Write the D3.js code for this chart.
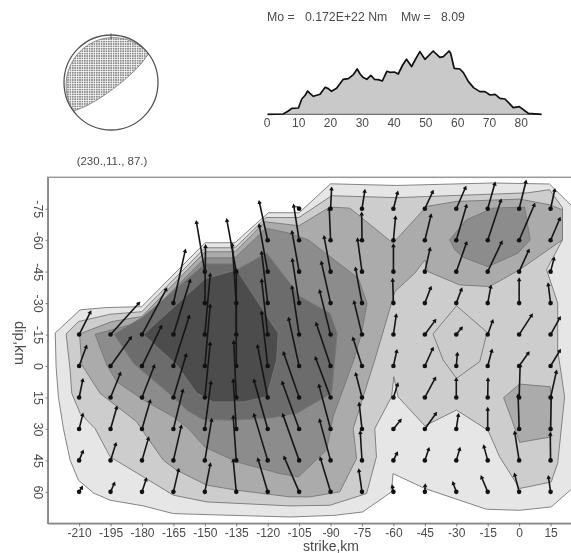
<!DOCTYPE html>
<html>
<head>
<meta charset="utf-8">
<script src="https://cdn.jsdelivr.net/npm/d3@7"></script>
<style>
  html, body { margin: 0; padding: 0; background: #fff; }
  svg { display: block; filter: blur(0.45px); }
  text { font-family: "Liberation Sans", Arial, sans-serif; fill: #4a4a4a; }
  .axis path { stroke: #8a8a8a; stroke-width: 1.6; }
  .axis line { stroke: #777; }
</style>
</head>
<body>
<div id="chart"></div>
<script>
// source time function (time in s, moment rate in arbitrary units)
const stfTime = [0.2, 5.1, 6.7, 7.8, 9.9, 10.9, 12, 12.8, 13.5, 14.6, 16.7, 18.3, 19.3, 20.3, 21.9, 24, 25.6, 27.2, 28.4, 29.3, 30.3, 31.4, 32.7, 33.8, 35, 36.3, 37.7, 38.7, 40.1, 41.3, 42.7, 43.9, 45.5, 46.6, 48.1, 49.7, 52.3, 54.4, 55.5, 57.3, 57.8, 58.9, 60.7, 61.8, 63.4, 65, 67, 68.6, 70.2, 71.8, 73.3, 74.9, 77.5, 79.4, 82.2, 86.4];
const stfRate = [0, 0.3, 3.3, 6, 6.3, 15, 19, 23.3, 21, 18, 20, 27, 25.7, 23, 26, 35, 35.7, 39.7, 45.3, 40.3, 36.7, 35, 39, 35, 34.7, 33.3, 43, 42, 42.3, 40.3, 49.3, 55, 47.7, 54.3, 62.7, 55, 63.3, 57, 57.7, 63.3, 61, 46, 45.3, 41.7, 32.7, 26.7, 22.7, 22.7, 19.3, 20, 16, 15.3, 6.7, 7.7, 1, 0];
const stfTicks = [0, 10, 20, 30, 40, 50, 60, 70, 80];

// focal mechanism: [strike, dip] of the two nodal planes as they look on the sphere
const plane1 = [230, 8];
const plane2 = [53, 79];

const strikeTicks = [-210, -195, -180, -165, -150, -135, -120, -105, -90, -75, -60, -45, -30, -15, 0, 15];
const dipTicks = [-75, -60, -45, -30, -15, 0, 15, 30, 45, 60];

// slip contours as [strike km, dip km], outermost level first
const contour1 = [[-221.4,-15.8],[-209.5,-26.8],[-196.8,-27.9],[-180.1,-28.3],[-149.9,-58.8],[-135.6,-58.8],[-119.7,-73.1],[-105,-73.1],[-90,-86.9],[-58.5,-86.1],[-12.6,-87.3],[14.5,-86.8],[29.8,-71.7],[29.8,54.5],[15.3,67.2],[0.2,68.8],[-15.6,68.3],[-45,58.4],[-60.2,51.3],[-60.9,60],[-74.7,69.6],[-88,71.2],[-109.4,72],[-165,70.4],[-179.3,66.7],[-195.2,64],[-203.2,60.5],[-210.3,54.5],[-214.3,44.9],[-217.5,29.8],[-219.9,14.7],[-221,0.3]];
const contour2 = [[-216.2,-15.3],[-210.3,-21.2],[-195.2,-24.7],[-180.1,-25.9],[-149.9,-56.4],[-135.6,-56.4],[-120.8,-70.8],[-105.1,-70.8],[-89.5,-81.2],[-58.5,-80.3],[4.1,-82.6],[14.5,-84.1],[20.7,-75.5],[20.7,-60.2],[13.1,-45.9],[18.4,-30.1],[18.4,-7.6],[21.7,14.7],[18.4,46.3],[15.3,55.3],[0.2,58.4],[-9.3,43.3],[-14.9,30.6],[-29.9,21],[-45,28.5],[-57.8,14.7],[-59.8,5.1],[-60.9,14.7],[-68.9,29.8],[-68.1,43.3],[-72.8,60.8],[-90.3,66.4],[-109.4,66.7],[-149.1,64.8],[-165,61.6],[-172.9,56.8],[-179.3,52.9],[-195.2,43.3],[-202.4,29.8],[-209.5,22.6],[-213.5,13],[-214.3,1.9]];
const contour3 = [[-209.8,-15.3],[-194.4,-21.2],[-180.1,-23.6],[-149.9,-54.5],[-135.6,-54.5],[-121.3,-68.8],[-105.1,-66.9],[-90.3,-75.8],[-80.8,-75.3],[-60.2,-58.6],[-44.2,-76.1],[-29.9,-78.5],[0.2,-79.6],[14.5,-76.9],[20.7,-74.5],[20.7,-60.2],[0.2,-45.9],[-14.1,-37.9],[-28.4,-38.7],[-43.5,-45],[-45,-50.6],[-49.8,-44.3],[-59.3,-35.5],[-60.9,-30],[-68.9,-2.9],[-79.2,29.8],[-77.6,44.1],[-85.6,60],[-99.9,62.4],[-109.4,62.4],[-134.8,59.2],[-149.1,56.8],[-163.4,49.7],[-169.8,44.9],[-177.7,33.8],[-182.5,26.6],[-200,13],[-208.7,-0.5]];
const contour3b = [[-7.4,15.1],[0.2,8.6],[14.9,9.9],[15.3,33.8],[0.2,36.4],[-3.7,25]];
const contour4 = [[-202.4,-15.1],[-180.1,-21.2],[-149.9,-51.6],[-135.6,-51.6],[-120.8,-65.7],[-110.4,-63.5],[-100.7,-60.2],[-76.8,-41.9],[-72.6,-30],[-75.2,-15.6],[-78.9,-2.9],[-88.8,24.2],[-91.9,40.1],[-105.4,52.9],[-114.2,51.3],[-134.8,45.7],[-149.9,38.7],[-157.9,29.8],[-165,24.2],[-179.3,16.2],[-192,7.5],[-196.8,-0.5]];
const contour4b = [[-33.1,-60.2],[-25.2,-69.7],[-12.5,-75.3],[2.6,-75.8],[5.3,-60.2],[-0.6,-53.8],[-14.9,-47.4],[-26.8,-51.9],[-30.7,-55.4]];
const contour5 = [[-193.3,-15.1],[-179.3,-23.6],[-149.9,-48.7],[-137,-48.7],[-134.8,-45.9],[-120.5,-53.8],[-109.4,-39.5],[-104.6,-33.1],[-90.3,-25.2],[-86.9,-15.6],[-88,-2.9],[-89.5,13],[-106.2,22.6],[-118.9,24.8],[-136.6,25.8],[-150.9,25.5],[-158.6,21],[-165.2,14.7],[-184.1,-1.3]];
const contour6 = [[-179.3,-15],[-149.9,-41.6],[-134.8,-45.9],[-115,-15.6],[-115.7,-2.9],[-120.5,14.7],[-131.8,17.1],[-146.1,17.1],[-153.9,12.9],[-163.4,-0.5]];
const contourIsland = [[-29.9,-28.7],[-15.3,-16.1],[-18.8,-2.1],[-29.9,5.9],[-36.3,-2.9],[-41.1,-15.3]];
const contourLevels = [
  [contour1, "#e6e6e6"], [contour2, "#cdcdcd"], [contourIsland, "#cbcbcb"],
  [contour3, "#ababab"], [contour3b, "#ababab"], [contour4, "#8c8c8c"],
  [contour4b, "#8c8c8c"], [contour5, "#6c6c6c"], [contour6, "#4c4c4c"]
];

// slip vectors in m, one list per strike, rows follow dipTicks
const n = null;
const slipAlong = [
  [n,n,n,n,1.1,0.7,0.35,0.35,0.35,0.25],
  [n,n,n,n,2.8,2.0,0.95,0.6,0.5,0.35],
  [n,n,n,n,2.4,1.9,1.2,0.8,0.63,0.4],
  [n,n,n,1.17,1.65,1.55,1.25,0.93,0.77,0.5],
  [n,n,-0.83,0.07,0.53,0.53,0.53,0.6,0.67,0.53],
  [n,n,-0.93,-0.4,0,0,-0.25,-0.3,-0.3,-0.3],
  [n,-0.83,-0.83,-0.6,-0.6,-0.6,-1,-1.35,-1.35,-0.95],
  [-0.1,-0.53,-0.7,-0.67,-0.7,-1.03,-1.53,-1.66,-1.6,-1.46],
  [0.1,-0.13,-0.63,-0.9,-1.07,-1.4,-1.47,-1.14,-1.07,-1],
  [0.27,-0.03,-0.43,-0.63,-0.77,-0.87,-0.6,-0.27,-0.17,-0.3],
  [0.4,0.2,0,-0.07,0.27,0.32,0.4,0.67,0.33,-0.1],
  [0.77,0.6,0.5,0.57,1,0.77,1,1.07,0.37,0.03],
  [0.9,1,1,0.5,0.5,0.1,0,0.2,0.33,-0.3],
  [0.7,1.3,1.37,0.3,0.47,0.4,0.03,0,-0.37,-0.6],
  [0.67,1.5,0.93,0,1.23,0.9,0.1,-0.1,-0.43,-0.43],
  [0.4,0.9,0.33,-0.23,0.9,0.9,0.57,0.07,-0.03,-0.2]
];
const slipUp = [
  [n,n,n,n,2.2,1.9,1.7,1.4,0.85,0.4],
  [n,n,n,n,3.1,2.8,2.35,2.1,1.6,0.8],
  [n,n,n,n,4.5,3.9,3.1,2.75,2.15,1.2],
  [n,n,n,5.2,5.35,4.9,4.2,3.8,3.35,2.15],
  [n,n,4.9,5.65,5.95,6.0,5.35,4.6,4.0,2.7],
  [n,n,5.1,5.8,6.3,6.3,5.5,4.8,4.3,3.1],
  [n,3.77,4.57,5,5.37,5.3,5.1,4.8,4.5,3.2],
  [0.1,3.4,3.9,4.27,4.7,4.67,4.4,4.6,4.5,3.4],
  [1.97,3.1,3.4,4,4.3,4.17,3.9,4.28,3.95,3.3],
  [1.73,2.6,3.17,3.4,3.2,2.7,2.3,2.45,2.75,2.1],
  [1.57,2.23,2.57,2.27,1.87,1.45,1.27,0.83,0.67,0.5],
  [1.67,2.43,2.23,1.5,1.37,1.7,1.87,1.5,1.1,0.6],
  [2.07,3.4,2.83,1.33,0.63,1.17,1.77,1.35,1.1,0.83],
  [2.47,3.93,2.9,1.6,1.3,1.5,1.77,1.95,1.35,1.43],
  [2.67,3.5,2.07,2.33,1.9,1.27,3.17,3.3,2.73,1.67],
  [1.83,2.1,1.27,1.83,1.63,1.5,2.53,3.17,2.6,1.43]
];

const width = 571;
const height = 553;

const svg = d3.select("#chart").append("svg")
  .attr("width", width)
  .attr("height", height);

svg.append("defs").append("pattern")
  .attr("id", "hatch")
  .attr("patternUnits", "userSpaceOnUse")
  .attr("width", 2.4)
  .attr("height", 2.4)
  .call(p => p.append("rect").attr("width", 2.4).attr("height", 2.4).attr("fill", "#fff"))
  .call(p => p.append("rect").attr("width", 1.7).attr("height", 1.7).attr("fill", "#8a8a8a"));

// ---- focal sphere ----
const focalX = d3.scaleLinear().domain([-1, 1]).range([64, 158]);
const focalY = d3.scaleLinear().domain([-1, 1]).range([130, 35]);

// lower hemisphere equal-area trace of a nodal plane
function planeTrace(plane) {
  const rad = Math.PI / 180;
  return d3.range(0, 181, 5).map(function(a) {
    const az = (plane[0] + a) * rad;
    const apparent = Math.atan(Math.tan(plane[1] * rad) * Math.sin(a * rad));
    const r = Math.SQRT2 * Math.sin((Math.PI / 2 - apparent) / 2);
    return [r * Math.sin(az), r * Math.cos(az)];
  });
}
const focalLine = d3.line().x(d => focalX(d[0])).y(d => focalY(d[1]));

svg.append("path")
  .attr("d", focalLine(planeTrace(plane1).concat(planeTrace(plane2))) + "Z")
  .attr("fill", "url(#hatch)")
  .attr("stroke", "#777")
  .attr("stroke-width", 0.8);

svg.append("ellipse")
  .attr("cx", focalX(0)).attr("cy", focalY(0))
  .attr("rx", focalX(1) - focalX(0)).attr("ry", focalY(-1) - focalY(0))
  .attr("fill", "none")
  .attr("stroke", "#555")
  .attr("stroke-width", 1.3);

svg.append("line")
  .attr("x1", focalX(0)).attr("x2", focalX(0))
  .attr("y1", focalY(1) - 1.5).attr("y2", focalY(1) + 4)
  .attr("stroke", "#555");

svg.append("text")
  .attr("x", 112).attr("y", 165)
  .attr("text-anchor", "middle")
  .attr("font-size", 11.5)
  .text("(230.,11., 87.)");

svg.append("text")
  .attr("x", 267).attr("y", 21)
  .attr("font-size", 12.3)
  .style("white-space", "pre")
  .text("Mo =   0.172E+22 Nm    Mw =   8.09");

// ---- source time function ----
const stfX = d3.scaleLinear().domain([0, 80]).range([267, 521.2]);
const stfY = d3.scaleLinear().domain([0, 70]).range([114.3, 44.3]);

svg.append("path")
  .attr("d", d3.area().x((d, i) => stfX(stfTime[i])).y0(stfY(0)).y1(d => stfY(d))(stfRate))
  .attr("fill", "#c9c9c9");

svg.append("line")
  .attr("x1", stfX(stfTime[0])).attr("x2", stfX(stfTime[stfTime.length - 1]))
  .attr("y1", stfY(0)).attr("y2", stfY(0))
  .attr("stroke", "#555");

svg.append("path")
  .attr("d", d3.line().x((d, i) => stfX(stfTime[i])).y(d => stfY(d))(stfRate))
  .attr("fill", "none")
  .attr("stroke", "#111")
  .attr("stroke-width", 1.7)
  .attr("stroke-linejoin", "round");

svg.selectAll(".stf-label")
  .data(stfTicks)
  .enter().append("text")
  .attr("class", "stf-label")
  .attr("x", d => stfX(d))
  .attr("y", 127)
  .attr("text-anchor", "middle")
  .attr("font-size", 12)
  .text(d => d);

// ---- slip map ----
const x = d3.scaleLinear().domain([-225, 30]).range([47.7, 582]);
const y = d3.scaleLinear().domain([-90, 75]).range([177.3, 523.3]);
const arrowScale = d3.scaleLinear().domain([0, 1]).range([0, 10]);

const contourLine = d3.line().x(d => x(d[0])).y(d => y(d[1])).curve(d3.curveLinearClosed);

svg.append("g")
  .selectAll("path")
  .data(contourLevels)
  .enter().append("path")
  .attr("d", d => contourLine(d[0]))
  .attr("fill", d => d[1])
  .attr("stroke", "#777")
  .attr("stroke-width", 0.9)
  .attr("stroke-linejoin", "round");

// frame, the right edge runs off the page
svg.append("rect")
  .attr("x", x(-225)).attr("y", y(-90))
  .attr("width", x(30) - x(-225)).attr("height", y(75) - y(-90))
  .attr("fill", "none")
  .attr("stroke", "#9a9a9a")
  .attr("stroke-width", 1.5);

svg.append("g")
  .attr("class", "axis")
  .attr("transform", "translate(0," + y(75) + ")")
  .call(d3.axisBottom(x).tickValues(strikeTicks).tickFormat(String).tickSize(3).tickPadding(2).tickSizeOuter(0))
  .call(g => g.selectAll("text").attr("font-size", 12))
  .call(g => g.attr("font-family", null));

const yAxis = svg.append("g")
  .attr("class", "axis")
  .attr("transform", "translate(" + x(-225) + ",0)")
  .call(d3.axisLeft(y).tickValues(dipTicks).tickFormat(String).tickSize(2).tickSizeOuter(0))
  .call(g => g.attr("font-family", null));

yAxis.selectAll("text")
  .attr("font-size", 12.5)
  .attr("text-anchor", "middle")
  .attr("dy", null)
  .attr("x", null)
  .attr("transform", "translate(-10,0) rotate(90)")
  .attr("dominant-baseline", "central");

svg.append("text")
  .attr("x", 331).attr("y", 550.5)
  .attr("text-anchor", "middle")
  .attr("font-size", 14)
  .text("strike,km");

svg.append("text")
  .attr("transform", "translate(20,343) rotate(90)")
  .attr("text-anchor", "middle")
  .attr("dominant-baseline", "central")
  .attr("font-size", 15)
  .text("dip,km");

// flatten slip table into one arrow per grid point
const arrows = [];
strikeTicks.forEach(function(s, i) {
  dipTicks.forEach(function(dip, j) {
    if (slipUp[i][j] !== null) {
      arrows.push({ strike: s, dip: dip, along: slipAlong[i][j], up: slipUp[i][j] });
    }
  });
});

const arrow = svg.append("g").selectAll("g")
  .data(arrows)
  .enter().append("g")
  .attr("transform", d => "translate(" + x(d.strike) + "," + y(d.dip) + ")");

arrow.append("line")
  .attr("x2", d => arrowScale(d.along))
  .attr("y2", d => -arrowScale(d.up))
  .attr("stroke", "#161616")
  .attr("stroke-width", 1.6);

arrow.append("circle")
  .attr("r", 2.3)
  .attr("fill", "#111");

arrow.append("path")
  .attr("d", d3.symbol().type(d3.symbolTriangle).size(9))
  .attr("transform", d => "translate(" + arrowScale(d.along) + "," + (-arrowScale(d.up)) + ") rotate(" + (Math.atan2(d.along, d.up) * 180 / Math.PI) + ")")
  .attr("fill", "#111");
</script>
</body>
</html>
